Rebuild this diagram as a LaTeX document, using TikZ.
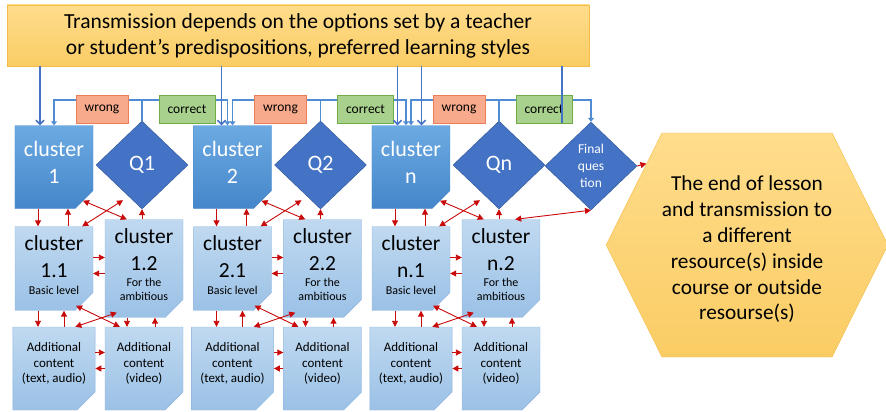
\documentclass[tikz,border=0pt]{standalone}
\usepackage{fontspec}
\setmainfont{Carlito}
\usetikzlibrary{shapes,arrows.meta,positioning,calc,backgrounds}
\definecolor{bannertop}{RGB}{255,221,140}
\definecolor{bannerbot}{RGB}{250,204,100}
\definecolor{bannerdraw}{RGB}{243,188,70}
\definecolor{clustertop}{RGB}{108,170,226}
\definecolor{clusterbot}{RGB}{68,134,202}
\definecolor{clusterdraw}{RGB}{80,140,205}
\definecolor{clusterfold}{RGB}{50,110,180}
\definecolor{qfill}{RGB}{68,114,196}
\definecolor{qdraw}{RGB}{47,85,151}
\definecolor{notetop}{RGB}{192,217,240}
\definecolor{notebot}{RGB}{155,193,230}
\definecolor{notedraw}{RGB}{140,180,225}
\definecolor{notefold}{RGB}{115,155,205}
\definecolor{wrongfill}{RGB}{247,170,140}
\definecolor{wrongdraw}{RGB}{235,125,90}
\definecolor{okfill}{RGB}{169,209,142}
\definecolor{okdraw}{RGB}{112,173,71}
\definecolor{bannerline}{RGB}{68,114,196}
\definecolor{qlinecol}{RGB}{80,140,210}
\definecolor{arrowred}{RGB}{200,10,10}

\begin{document}
\begin{tikzpicture}[x=1pt,y=-1pt,
    fold/.style={path picture={\fill[#1] ([xshift=-9pt]path picture bounding box.south east) -- ([yshift=9pt]path picture bounding box.south east) -- ([shift={(-7pt,7pt)}]path picture bounding box.south east) -- cycle;}},
    cutbox/.style={chamfered rectangle, chamfered rectangle corners=south east, chamfered rectangle sep=9pt, minimum width=78pt, minimum height=83pt, inner sep=0pt, align=center},
    topbox/.style={cutbox, top color=clustertop, bottom color=clusterbot, draw=clusterdraw, text=white, font=\fontsize{22}{27}\selectfont, fold=clusterfold},
    notebox/.style={cutbox, top color=notetop, bottom color=notebot, draw=notedraw, font=\fontsize{21.5}{27}\selectfont, fold=notefold},
    addbox/.style={notebox, font=\fontsize{13}{15.5}\selectfont},
    qbox/.style={diamond, minimum width=92pt, minimum height=88pt, inner sep=0pt, fill=qfill, draw=qdraw, text=white, align=center, font=\fontsize{22}{26}\selectfont},
    wrongbox/.style={rectangle, minimum width=52pt, minimum height=28pt, fill=wrongfill, draw=wrongdraw, font=\fontsize{13.5}{16}\selectfont},
    okbox/.style={wrongbox, minimum width=56pt, fill=okfill, draw=okdraw},
    bline/.style={line width=1.5pt, bannerline, -{Straight Barb[length=4pt,width=8pt]}},
    qline/.style={line width=1.5pt, qlinecol, -{Triangle[length=4pt,width=6pt]}},
    redline/.style={line width=0.9pt, arrowred, -{Triangle[length=6pt,width=6pt]}},
    redboth/.style={redline, {Triangle[length=6pt,width=6pt]}-{Triangle[length=6pt,width=6pt]}}]
  \useasboundingbox (0,0) rectangle (886,412);

  % Top banner and end hexagon
  \node[draw=bannerdraw, top color=bannertop, bottom color=bannerbot, minimum width=582pt, minimum height=61pt, align=center, font=\fontsize{21.5}{26}\selectfont] (banner) at (298,35.5) {Transmission depends on the options set by a teacher\\or student's predispositions, preferred learning styles};
  \node[signal, signal to=west and east, signal pointer angle=127, minimum width=276pt, minimum height=224pt, inner sep=0pt, draw=bannerdraw, top color=bannertop, bottom color=bannerbot, align=center, font=\fontsize{21.3}{25.8}\selectfont] (hex) at (747,245) {\mbox{}\\[-2pt]The end of lesson\\and transmission to\\a different\\resource(s) inside\\course or outside\\resourse(s)};
  \node[qbox, font=\fontsize{13.5}{17}\selectfont] (qf) at (591,166) {Final\\ques\\tion};

  % Clusters, questions and additional content
  \foreach \g/\x in {1/0, 2/178.5, n/357} {
    \node[topbox] (cl\g) at (54+\x,167) {cluster\\\g\\[-17pt]\mbox{}};
    \node[qbox] (q\g) at (142+\x,165) {Q\g};
    \node[wrongbox] (w\g) at (102+\x,109) {wrong};
    \node[okbox] (ok\g) at (187+\x,109) {correct};
    \node[notebox] (cl\g1) at (54+\x,268.5) {cluster\\\g.1\\[-10pt]\fontsize{12}{14}\selectfont Basic level\\[-20pt]\mbox{}};
    \node[notebox] (cl\g2) at (144+\x,268.5) {cluster\\\g.2\\[-11pt]\fontsize{12}{14}\selectfont For the\\[-13pt]\fontsize{12}{14}\selectfont ambitious\\[-19pt]\mbox{}};
    \node[addbox] (ad\g1) at (54+\x,368.5) {Additional\\content\\(text, audio)\\[-3.5pt]\mbox{}};
    \node[addbox] (ad\g2) at (144+\x,368.5) {Additional\\content\\(video)\\[-3.5pt]\mbox{}};
  }

  % Answer lines from the questions
  \coordinate (qbar) at (0,100);
  \begin{scope}[on background layer]
    \foreach \g/\nxt/\dx in {1/cl2/-5pt, 2/cln/-5pt, n/qf/0pt} {
      \draw[qline] (q\g.north) -- (q\g.north |- qbar) -| (cl\g.north);
      \draw[qline] (q\g.north |- qbar) -| ([xshift=\dx]\nxt.north);
    }
  \end{scope}

  % Lines from the banner
  \foreach \c/\dx [count=\i] in {cl1/-14pt, cl2/-11pt, cln/-13.5pt, cln/10.5pt} {
    \coordinate (in\i) at ([xshift=\dx]\c.north);
    \draw[bline] (in\i |- banner.south) -- (in\i);
  }
  \coordinate (in5) at ([xshift=18pt]okn.south);
  \draw[bline, -] (in5 |- banner.south) -- (in5);

  % Red links inside each group
  \foreach \g in {1,2,n} {
    \draw[redline] ([xshift=-16pt]cl\g.south) -- ([xshift=-16pt]cl\g1.north);
    \draw[redline] ([xshift=14pt]cl\g1.north) -- ([xshift=14pt]cl\g.south);
    \draw[redboth] ([shift={(29pt,8pt)}]cl\g.south) -- ([xshift=22pt]cl\g2.north west);
    \draw[redboth] ([shift={(-19pt,9pt)}]q\g.south) -- ([xshift=-11pt]cl\g1.north east);
    \draw[redline] (q\g.south |- cl\g2.north) -- (q\g.south);
    \draw[redline] ([yshift=11pt]cl\g1.east) -- ([yshift=11pt]cl\g2.west);
    \draw[redline] ([yshift=-5pt]cl\g2.west) -- ([yshift=-5pt]cl\g1.east);
    \draw[redline] ([xshift=-16pt]cl\g1.south) -- ([xshift=-16pt]ad\g1.north);
    \draw[redline] ([xshift=10pt]ad\g1.north) -- ([xshift=10pt]cl\g1.south);
    \draw[redboth] ([shift={(22pt,5pt)}]cl\g1.south) -- ([xshift=15pt]ad\g2.north west);
    \draw[redboth] ([shift={(12pt,5pt)}]cl\g2.south west) -- ([xshift=-20pt]ad\g1.north east);
    \draw[redline] ([xshift=-17pt]cl\g2.south) -- ([xshift=-17pt]ad\g2.north);
    \draw[redline] ([xshift=11pt]ad\g2.north) -- ([xshift=11pt]cl\g2.south);
    \draw[redline] ([yshift=16pt]ad\g1.east) -- ([yshift=16pt]ad\g2.west);
    \draw[redline] (ad\g2.west) -- (ad\g1.east);
  }
  \draw[redboth] ([xshift=-25pt]cln2.north east) -- (qf.south);
  \draw[redline] (qf.east) -- (hex.141);
\end{tikzpicture}
\end{document}
